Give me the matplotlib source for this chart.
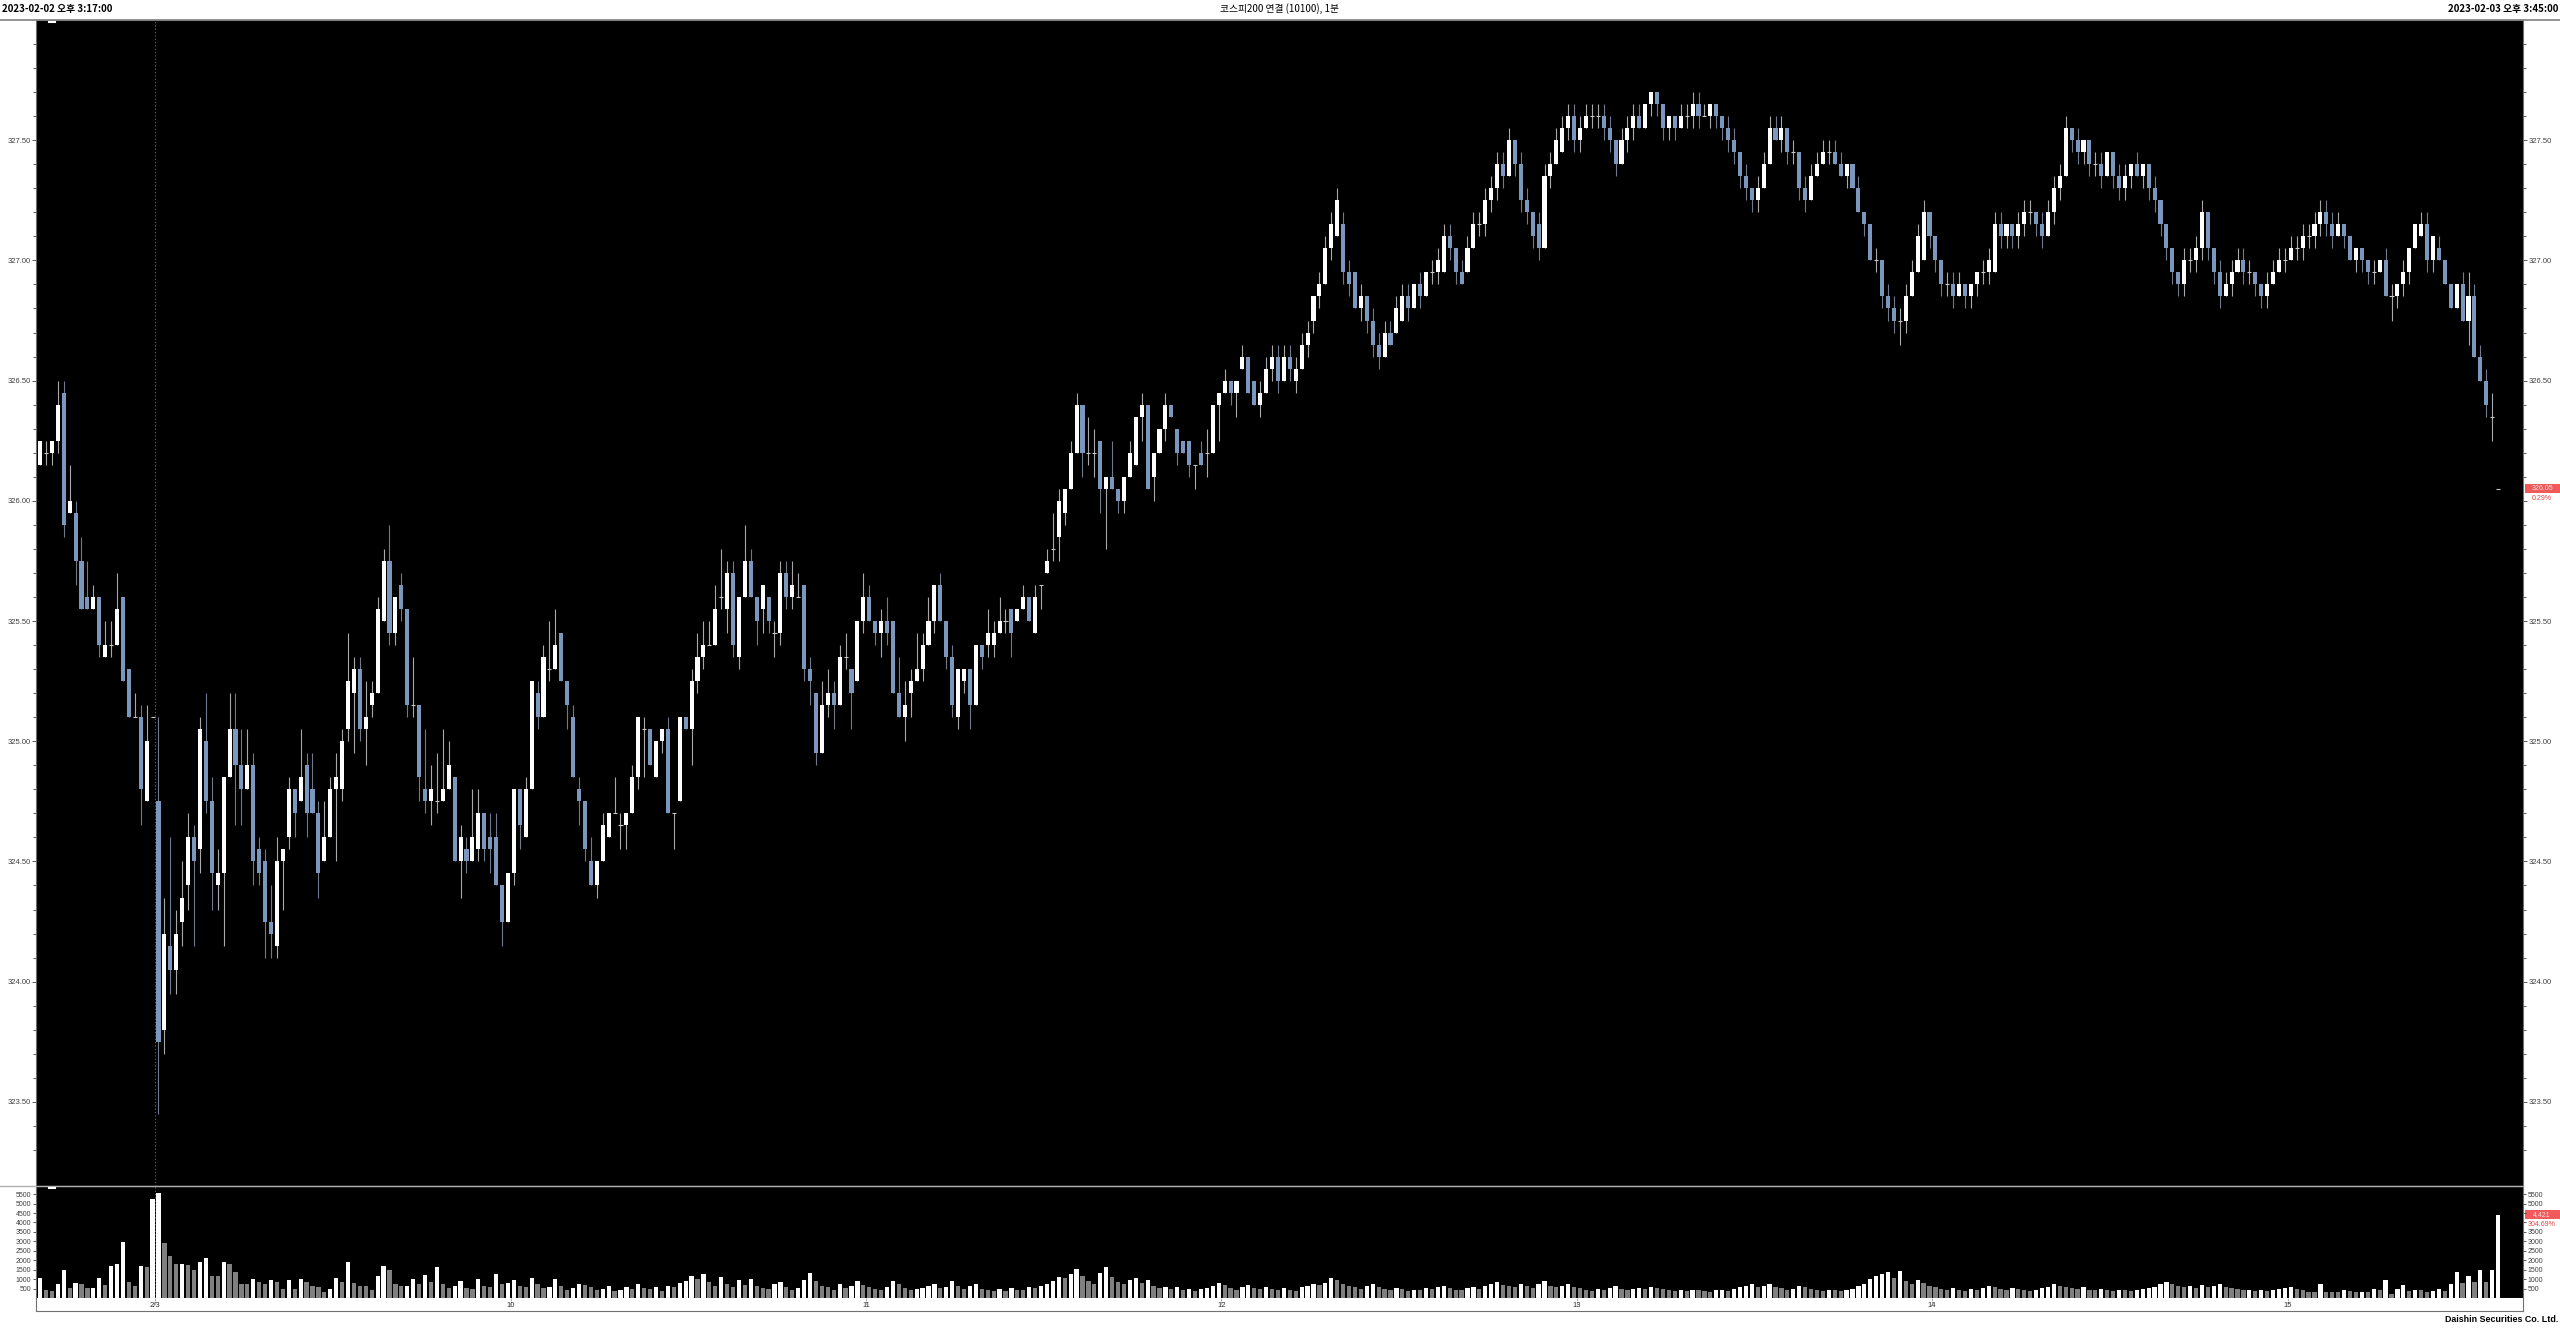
import matplotlib
matplotlib.use("Agg")
import matplotlib.pyplot as plt
import numpy as np
from matplotlib.lines import Line2D
from matplotlib.patches import Rectangle
from matplotlib.transforms import blended_transform_factory

# 1-minute bars, 2023-02-02 15:17 .. 2023-02-03 15:45 (last bar = closing auction)
opens = [
    326.15, 326.20, 326.20, 326.25, 326.45, 325.95, 325.95, 325.75, 325.60, 325.55,
    325.60, 325.35, 325.40, 325.40, 325.60, 325.30, 325.10, 325.10, 324.75, 325.10,
    324.75, 323.80, 324.15, 324.05, 324.25, 324.40, 324.60, 324.55, 325.00, 324.75,
    324.40, 324.45, 324.85, 325.05, 324.90, 324.80, 324.90, 324.55, 324.50, 324.25,
    324.15, 324.50, 324.60, 324.80, 324.75, 324.90, 324.80, 324.70, 324.50, 324.60,
    324.80, 324.80, 325.05, 325.20, 325.30, 325.05, 325.15, 325.20, 325.50, 325.75,
    325.45, 325.65, 325.55, 325.15, 325.15, 324.80, 324.75, 324.75, 324.75, 324.80,
    324.85, 324.50, 324.55, 324.50, 324.55, 324.70, 324.60, 324.60, 324.40, 324.25,
    324.45, 324.80, 324.60, 324.80, 325.20, 325.10, 325.30, 325.30, 325.45, 325.25,
    325.10, 324.80, 324.75, 324.50, 324.40, 324.50, 324.60, 324.70, 324.65, 324.65,
    324.70, 324.85, 325.05, 325.05, 324.85, 325.00, 325.05, 324.70, 324.75, 325.10,
    325.05, 325.25, 325.35, 325.40, 325.40, 325.60, 325.55, 325.70, 325.35, 325.60,
    325.75, 325.60, 325.55, 325.60, 325.45, 325.45, 325.70, 325.60, 325.60, 325.65,
    325.30, 325.20, 324.95, 325.15, 325.20, 325.15, 325.35, 325.30, 325.25, 325.50,
    325.60, 325.50, 325.45, 325.50, 325.50, 325.20, 325.10, 325.20, 325.25, 325.30,
    325.40, 325.50, 325.65, 325.50, 325.35, 325.10, 325.25, 325.30, 325.15, 325.40,
    325.40, 325.40, 325.45, 325.50, 325.55, 325.50, 325.55, 325.60, 325.45, 325.65,
    325.70, 325.80, 325.85, 325.95, 326.05, 326.20, 326.40, 326.20, 326.20, 326.25,
    326.05, 326.10, 326.05, 326.00, 326.10, 326.15, 326.35, 326.40, 326.10, 326.20,
    326.30, 326.40, 326.30, 326.25, 326.25, 326.15, 326.20, 326.20, 326.20, 326.40,
    326.45, 326.50, 326.45, 326.55, 326.60, 326.50, 326.40, 326.45, 326.55, 326.60,
    326.50, 326.60, 326.50, 326.55, 326.65, 326.75, 326.85, 326.90, 327.05, 327.10,
    327.15, 326.95, 326.95, 326.80, 326.85, 326.75, 326.65, 326.60, 326.70, 326.70,
    326.75, 326.85, 326.80, 326.90, 326.85, 326.95, 326.95, 326.95, 327.10, 327.05,
    326.95, 326.95, 327.05, 327.15, 327.15, 327.25, 327.30, 327.40, 327.35, 327.50,
    327.40, 327.25, 327.20, 327.15, 327.05, 327.35, 327.40, 327.45, 327.55, 327.60,
    327.50, 327.55, 327.60, 327.60, 327.60, 327.55, 327.50, 327.40, 327.50, 327.55,
    327.60, 327.55, 327.65, 327.70, 327.65, 327.55, 327.60, 327.55, 327.60, 327.60,
    327.65, 327.60, 327.60, 327.65, 327.60, 327.55, 327.50, 327.45, 327.35, 327.30,
    327.25, 327.30, 327.40, 327.55, 327.50, 327.55, 327.45, 327.45, 327.30, 327.25,
    327.35, 327.40, 327.45, 327.45, 327.40, 327.35, 327.40, 327.30, 327.20, 327.15,
    327.00, 327.00, 326.85, 326.80, 326.75, 326.75, 326.85, 326.95, 327.00, 327.20,
    327.10, 327.00, 326.90, 326.90, 326.85, 326.90, 326.85, 326.90, 326.95, 326.95,
    326.95, 327.15, 327.10, 327.15, 327.10, 327.15, 327.20, 327.20, 327.15, 327.10,
    327.20, 327.30, 327.35, 327.55, 327.50, 327.45, 327.50, 327.40, 327.40, 327.35,
    327.45, 327.35, 327.30, 327.35, 327.40, 327.35, 327.40, 327.30, 327.25, 327.15,
    327.05, 326.95, 326.90, 327.00, 327.00, 327.05, 327.20, 327.05, 326.95, 326.85,
    326.90, 326.95, 327.00, 326.95, 326.95, 326.90, 326.85, 326.90, 326.95, 327.00,
    327.00, 327.05, 327.05, 327.10, 327.10, 327.15, 327.20, 327.15, 327.10, 327.15,
    327.10, 327.00, 327.05, 327.00, 326.95, 326.95, 327.00, 326.85, 326.85, 326.90,
    326.95, 327.05, 327.10, 327.15, 327.00, 327.05, 327.00, 326.90, 326.80, 326.90,
    326.75, 326.85, 326.60, 326.50, 326.35, 326.05,
]
highs = [
    326.25, 326.25, 326.25, 326.50, 326.50, 326.15, 326.00, 325.85, 325.75, 325.65,
    325.60, 325.50, 325.50, 325.70, 325.60, 325.30, 325.20, 325.15, 325.15, 325.10,
    325.10, 324.35, 324.60, 324.30, 324.50, 324.70, 324.65, 325.10, 325.20, 324.85,
    324.55, 324.85, 325.20, 325.20, 325.05, 325.05, 324.95, 324.60, 324.55, 324.40,
    324.60, 324.55, 324.85, 324.80, 325.05, 324.95, 324.95, 324.75, 324.75, 324.85,
    324.95, 325.05, 325.45, 325.35, 325.35, 325.25, 325.25, 325.60, 325.80, 325.90,
    325.60, 325.70, 325.55, 325.35, 325.15, 325.05, 324.90, 324.95, 325.05, 325.00,
    324.85, 324.65, 324.60, 324.80, 324.80, 324.70, 324.70, 324.70, 324.40, 324.45,
    324.80, 324.80, 324.85, 325.25, 325.25, 325.40, 325.50, 325.55, 325.45, 325.25,
    325.15, 324.85, 324.75, 324.60, 324.50, 324.70, 324.70, 324.85, 324.70, 324.70,
    324.90, 325.10, 325.10, 325.05, 325.00, 325.05, 325.10, 324.70, 325.10, 325.10,
    325.30, 325.45, 325.50, 325.50, 325.65, 325.80, 325.75, 325.75, 325.60, 325.90,
    325.80, 325.60, 325.65, 325.60, 325.50, 325.75, 325.75, 325.75, 325.70, 325.65,
    325.35, 325.20, 325.25, 325.30, 325.25, 325.40, 325.45, 325.30, 325.50, 325.70,
    325.65, 325.50, 325.55, 325.60, 325.50, 325.35, 325.25, 325.30, 325.45, 325.45,
    325.60, 325.65, 325.70, 325.50, 325.40, 325.30, 325.30, 325.30, 325.40, 325.40,
    325.55, 325.50, 325.60, 325.55, 325.55, 325.55, 325.65, 325.60, 325.65, 325.65,
    325.80, 325.95, 326.05, 326.05, 326.25, 326.45, 326.40, 326.35, 326.30, 326.25,
    326.10, 326.25, 326.05, 326.10, 326.25, 326.35, 326.45, 326.40, 326.20, 326.30,
    326.45, 326.40, 326.30, 326.25, 326.25, 326.15, 326.25, 326.30, 326.40, 326.45,
    326.55, 326.50, 326.50, 326.65, 326.60, 326.50, 326.50, 326.60, 326.65, 326.65,
    326.65, 326.65, 326.60, 326.70, 326.75, 326.85, 326.95, 327.10, 327.20, 327.30,
    327.20, 327.00, 326.95, 326.90, 326.85, 326.80, 326.70, 326.75, 326.75, 326.85,
    326.90, 326.90, 326.90, 326.95, 326.95, 327.00, 327.05, 327.15, 327.15, 327.05,
    327.00, 327.10, 327.20, 327.20, 327.30, 327.35, 327.45, 327.45, 327.55, 327.50,
    327.45, 327.30, 327.20, 327.20, 327.40, 327.45, 327.55, 327.60, 327.65, 327.65,
    327.60, 327.65, 327.65, 327.65, 327.65, 327.60, 327.50, 327.55, 327.60, 327.65,
    327.65, 327.65, 327.70, 327.70, 327.65, 327.60, 327.60, 327.65, 327.65, 327.70,
    327.70, 327.65, 327.65, 327.65, 327.60, 327.60, 327.55, 327.45, 327.40, 327.30,
    327.35, 327.45, 327.60, 327.60, 327.60, 327.55, 327.50, 327.45, 327.35, 327.40,
    327.45, 327.50, 327.50, 327.50, 327.45, 327.40, 327.40, 327.35, 327.20, 327.15,
    327.05, 327.00, 326.90, 326.85, 326.80, 326.90, 327.00, 327.15, 327.25, 327.20,
    327.10, 327.00, 326.95, 326.95, 326.95, 326.90, 326.90, 326.95, 327.00, 327.05,
    327.20, 327.20, 327.15, 327.15, 327.20, 327.25, 327.25, 327.20, 327.20, 327.25,
    327.35, 327.40, 327.60, 327.55, 327.55, 327.50, 327.50, 327.45, 327.45, 327.45,
    327.45, 327.40, 327.40, 327.40, 327.45, 327.40, 327.40, 327.35, 327.25, 327.15,
    327.05, 326.95, 327.05, 327.05, 327.10, 327.25, 327.20, 327.05, 327.00, 326.95,
    327.00, 327.05, 327.05, 327.00, 326.95, 326.90, 326.95, 327.00, 327.05, 327.05,
    327.10, 327.10, 327.15, 327.15, 327.20, 327.25, 327.25, 327.20, 327.20, 327.15,
    327.10, 327.05, 327.05, 327.00, 327.00, 327.00, 327.05, 326.90, 326.90, 327.00,
    327.05, 327.15, 327.20, 327.20, 327.10, 327.10, 327.00, 326.90, 326.90, 326.95,
    326.95, 326.90, 326.65, 326.55, 326.45, 326.05,
]
lows = [
    326.15, 326.15, 326.15, 326.20, 325.85, 325.95, 325.65, 325.55, 325.55, 325.55,
    325.35, 325.35, 325.35, 325.40, 325.25, 325.10, 325.10, 324.65, 324.75, 325.10,
    323.45, 323.70, 323.95, 323.95, 324.15, 324.30, 324.15, 324.45, 324.70, 324.30,
    324.30, 324.15, 324.85, 324.65, 324.65, 324.80, 324.40, 324.40, 324.10, 324.10,
    324.10, 324.30, 324.55, 324.60, 324.75, 324.60, 324.70, 324.35, 324.50, 324.60,
    324.50, 324.75, 325.00, 324.95, 325.00, 324.90, 325.10, 325.20, 325.50, 325.40,
    325.40, 325.50, 325.10, 325.10, 324.75, 324.70, 324.65, 324.70, 324.75, 324.80,
    324.50, 324.35, 324.45, 324.50, 324.50, 324.50, 324.45, 324.40, 324.15, 324.25,
    324.40, 324.55, 324.60, 324.80, 325.05, 325.10, 325.25, 325.30, 325.25, 325.05,
    324.85, 324.65, 324.50, 324.40, 324.35, 324.50, 324.60, 324.70, 324.55, 324.55,
    324.70, 324.80, 324.85, 324.90, 324.85, 324.95, 324.70, 324.55, 324.75, 325.05,
    324.90, 325.20, 325.30, 325.40, 325.40, 325.55, 325.45, 325.35, 325.30, 325.60,
    325.60, 325.40, 325.45, 325.45, 325.35, 325.40, 325.55, 325.55, 325.60, 325.25,
    325.15, 324.90, 324.95, 325.10, 325.05, 325.15, 325.30, 325.05, 325.25, 325.45,
    325.50, 325.40, 325.35, 325.40, 325.20, 325.10, 325.00, 325.10, 325.25, 325.25,
    325.40, 325.45, 325.50, 325.30, 325.10, 325.05, 325.20, 325.05, 325.15, 325.30,
    325.35, 325.35, 325.45, 325.45, 325.35, 325.50, 325.55, 325.50, 325.45, 325.55,
    325.70, 325.75, 325.75, 325.90, 326.05, 326.20, 326.10, 326.15, 326.10, 325.95,
    325.80, 326.05, 325.95, 325.95, 326.10, 326.15, 326.25, 326.05, 326.00, 326.20,
    326.25, 326.35, 326.15, 326.20, 326.10, 326.05, 326.15, 326.10, 326.20, 326.25,
    326.45, 326.40, 326.35, 326.55, 326.45, 326.40, 326.35, 326.45, 326.50, 326.45,
    326.50, 326.50, 326.45, 326.55, 326.60, 326.70, 326.80, 326.90, 327.00, 327.10,
    326.90, 326.85, 326.80, 326.75, 326.70, 326.60, 326.55, 326.60, 326.65, 326.70,
    326.75, 326.75, 326.80, 326.80, 326.85, 326.90, 326.90, 326.95, 327.00, 326.90,
    326.90, 326.95, 327.05, 327.10, 327.10, 327.20, 327.25, 327.30, 327.35, 327.35,
    327.20, 327.15, 327.05, 327.00, 327.05, 327.30, 327.40, 327.45, 327.50, 327.45,
    327.45, 327.55, 327.55, 327.55, 327.50, 327.45, 327.35, 327.40, 327.45, 327.50,
    327.55, 327.55, 327.60, 327.60, 327.50, 327.50, 327.50, 327.55, 327.55, 327.55,
    327.55, 327.60, 327.55, 327.55, 327.50, 327.45, 327.40, 327.30, 327.25, 327.20,
    327.20, 327.30, 327.40, 327.50, 327.45, 327.40, 327.40, 327.25, 327.20, 327.25,
    327.35, 327.40, 327.40, 327.40, 327.35, 327.30, 327.30, 327.20, 327.10, 327.00,
    326.95, 326.80, 326.75, 326.70, 326.65, 326.70, 326.85, 326.95, 327.00, 327.05,
    326.95, 326.85, 326.85, 326.80, 326.85, 326.80, 326.80, 326.85, 326.90, 326.90,
    326.95, 327.05, 327.05, 327.05, 327.05, 327.10, 327.15, 327.10, 327.05, 327.10,
    327.15, 327.25, 327.35, 327.45, 327.40, 327.40, 327.35, 327.35, 327.30, 327.35,
    327.30, 327.25, 327.25, 327.30, 327.35, 327.30, 327.25, 327.20, 327.10, 327.00,
    326.90, 326.85, 326.85, 326.95, 326.95, 327.00, 327.00, 326.90, 326.80, 326.85,
    326.85, 326.95, 326.90, 326.90, 326.85, 326.80, 326.80, 326.90, 326.95, 326.95,
    327.00, 327.00, 327.00, 327.05, 327.05, 327.10, 327.10, 327.05, 327.10, 327.05,
    327.00, 326.95, 326.95, 326.90, 326.90, 326.95, 326.85, 326.75, 326.80, 326.85,
    326.90, 327.05, 327.10, 326.95, 326.95, 327.00, 326.90, 326.80, 326.80, 326.75,
    326.65, 326.60, 326.50, 326.35, 326.25, 326.05,
]
closes = [
    326.25, 326.20, 326.25, 326.40, 325.90, 326.00, 325.75, 325.55, 325.55, 325.60,
    325.40, 325.40, 325.40, 325.55, 325.25, 325.10, 325.10, 324.80, 325.00, 325.10,
    323.75, 324.20, 324.05, 324.20, 324.35, 324.60, 324.50, 325.05, 324.75, 324.45,
    324.45, 324.85, 325.05, 324.90, 324.80, 324.90, 324.50, 324.45, 324.25, 324.20,
    324.50, 324.55, 324.80, 324.70, 324.85, 324.70, 324.70, 324.45, 324.60, 324.80,
    324.85, 325.00, 325.25, 325.30, 325.05, 325.10, 325.20, 325.55, 325.75, 325.45,
    325.60, 325.55, 325.15, 325.15, 324.85, 324.75, 324.80, 324.75, 324.80, 324.90,
    324.50, 324.60, 324.50, 324.60, 324.70, 324.55, 324.55, 324.40, 324.25, 324.45,
    324.80, 324.65, 324.80, 325.25, 325.10, 325.35, 325.30, 325.40, 325.25, 325.15,
    324.85, 324.75, 324.55, 324.40, 324.50, 324.65, 324.70, 324.70, 324.65, 324.70,
    324.85, 325.10, 325.05, 324.90, 325.00, 325.05, 324.70, 324.70, 325.10, 325.05,
    325.25, 325.35, 325.40, 325.40, 325.55, 325.60, 325.70, 325.40, 325.60, 325.75,
    325.60, 325.50, 325.65, 325.50, 325.45, 325.70, 325.60, 325.65, 325.60, 325.30,
    325.25, 324.95, 325.15, 325.20, 325.15, 325.35, 325.35, 325.20, 325.50, 325.60,
    325.50, 325.45, 325.50, 325.45, 325.20, 325.10, 325.15, 325.25, 325.30, 325.40,
    325.50, 325.65, 325.50, 325.35, 325.15, 325.30, 325.30, 325.15, 325.40, 325.35,
    325.45, 325.45, 325.50, 325.50, 325.45, 325.55, 325.60, 325.50, 325.60, 325.65,
    325.75, 325.80, 326.00, 326.05, 326.20, 326.40, 326.20, 326.20, 326.20, 326.05,
    326.10, 326.05, 326.00, 326.10, 326.20, 326.35, 326.40, 326.05, 326.20, 326.30,
    326.40, 326.35, 326.20, 326.20, 326.15, 326.15, 326.15, 326.20, 326.40, 326.45,
    326.50, 326.45, 326.50, 326.60, 326.45, 326.40, 326.45, 326.55, 326.60, 326.50,
    326.60, 326.55, 326.55, 326.65, 326.70, 326.85, 326.90, 327.05, 327.15, 327.25,
    326.95, 326.90, 326.80, 326.85, 326.75, 326.65, 326.60, 326.70, 326.65, 326.80,
    326.85, 326.80, 326.90, 326.85, 326.95, 326.95, 327.00, 327.10, 327.05, 326.95,
    326.90, 327.05, 327.15, 327.15, 327.25, 327.30, 327.40, 327.35, 327.50, 327.40,
    327.25, 327.20, 327.10, 327.05, 327.35, 327.40, 327.50, 327.55, 327.60, 327.50,
    327.55, 327.60, 327.60, 327.60, 327.55, 327.50, 327.40, 327.50, 327.55, 327.60,
    327.55, 327.65, 327.70, 327.65, 327.55, 327.60, 327.55, 327.60, 327.60, 327.65,
    327.60, 327.60, 327.65, 327.60, 327.55, 327.50, 327.45, 327.35, 327.30, 327.25,
    327.30, 327.40, 327.55, 327.50, 327.55, 327.45, 327.45, 327.30, 327.25, 327.35,
    327.40, 327.45, 327.45, 327.40, 327.35, 327.40, 327.30, 327.20, 327.15, 327.00,
    327.00, 326.85, 326.80, 326.75, 326.75, 326.85, 326.95, 327.10, 327.20, 327.10,
    327.00, 326.90, 326.90, 326.85, 326.90, 326.85, 326.90, 326.95, 326.95, 327.00,
    327.15, 327.10, 327.15, 327.10, 327.15, 327.20, 327.20, 327.15, 327.10, 327.20,
    327.30, 327.35, 327.55, 327.50, 327.45, 327.50, 327.40, 327.40, 327.35, 327.45,
    327.35, 327.30, 327.35, 327.40, 327.35, 327.40, 327.30, 327.25, 327.15, 327.05,
    326.95, 326.90, 327.00, 327.00, 327.05, 327.20, 327.05, 326.95, 326.85, 326.90,
    326.95, 327.00, 326.95, 326.95, 326.90, 326.85, 326.90, 326.95, 327.00, 327.00,
    327.05, 327.05, 327.10, 327.10, 327.15, 327.20, 327.15, 327.10, 327.15, 327.10,
    327.00, 327.05, 327.00, 326.95, 326.95, 327.00, 326.85, 326.85, 326.90, 326.95,
    327.05, 327.15, 327.15, 327.00, 327.10, 327.00, 326.90, 326.80, 326.90, 326.75,
    326.85, 326.60, 326.50, 326.40, 326.35, 326.05,
]
volumes = [
    1050, 400, 380, 760, 1500, 520, 800, 730, 520, 550,
    1050, 700, 1680, 1780, 2960, 850, 630, 1680, 1620, 5260,
    5540, 2900, 2200, 1780, 1790, 1770, 1460, 1880, 2130, 1160,
    1150, 1880, 1820, 1380, 760, 750, 1020, 830, 720, 970,
    830, 500, 970, 470, 1020, 830, 620, 590, 310, 470,
    1080, 830, 1880, 800, 620, 610, 400, 1160, 1700, 1480,
    750, 620, 640, 980, 720, 1240, 860, 1620, 760, 520,
    640, 880, 540, 460, 980, 620, 560, 1280, 720, 820,
    960, 640, 560, 1080, 760, 520, 600, 980, 620, 440,
    520, 760, 680, 560, 400, 480, 620, 380, 420, 560,
    480, 720, 520, 460, 560, 380, 640, 560, 800, 920,
    1180, 980, 1260, 860, 640, 1120, 760, 580, 940, 680,
    1000, 620, 540, 480, 720, 860, 560, 440, 520, 960,
    1320, 880, 620, 560, 440, 720, 520, 640, 900, 700,
    560, 480, 420, 560, 920, 760, 520, 400, 460, 540,
    620, 760, 540, 600, 880, 660, 480, 620, 720, 500,
    420, 380, 460, 360, 520, 440, 400, 560, 520, 620,
    720, 880, 1100, 1040, 1260, 1520, 1180, 900, 760, 1300,
    1640, 1120, 860, 720, 960, 1080, 820, 940, 620, 520,
    600, 480, 560, 420, 500, 380, 460, 520, 640, 780,
    700, 520, 440, 580, 680, 520, 460, 560, 480, 400,
    520, 440, 380, 560, 620, 740, 680, 820, 1040, 940,
    760, 620, 560, 480, 640, 720, 560, 480, 420, 520,
    460, 380, 440, 400, 520, 460, 560, 640, 520, 440,
    400, 520, 580, 460, 640, 720, 840, 700, 620, 560,
    720, 640, 520, 760, 880, 640, 560, 620, 760, 600,
    520, 440, 380, 460, 400, 520, 620, 480, 420, 460,
    520, 480, 600, 540, 460, 400, 360, 420, 380, 440,
    400, 360, 320, 400, 440, 380, 460, 560, 640, 720,
    560, 660, 760, 580, 520, 440, 500, 640, 560, 480,
    420, 380, 440, 400, 360, 420, 480, 620, 760, 980,
    1160, 1260, 1380, 1080, 1420, 900, 760, 940, 820, 620,
    560, 480, 440, 520, 400, 380, 460, 420, 520, 640,
    560, 480, 440, 520, 460, 400, 380, 440, 520, 600,
    720, 640, 580, 520, 480, 560, 440, 400, 460, 420,
    380, 440, 400, 360, 420, 480, 520, 600, 720, 860,
    760, 640, 560, 620, 520, 700, 560, 640, 760, 600,
    520, 460, 400, 440, 380, 420, 360, 400, 460, 520,
    600, 480, 440, 336, 318, 760, 318, 317, 316, 424,
    389, 318, 336, 300, 495, 424, 954, 212, 495, 671,
    389, 424, 423, 336, 371, 495, 389, 742, 1396, 795,
    1184, 866, 1484, 850, 1480, 4421,
]

hour_labels = ["2/3", "10", "11", "12", "13", "14", "15"]
hour_pos = [19.45, 79.45, 139.45, 199.45, 259.45, 319.45, 379.45]

last_price = 326.05
last_change = "0.29%"
last_volume = 4421
volume_change = "304.69%"

W, H = 2560, 1328
UP = "#ffffff"
DOWN = "#7b97bd"
TICK_C = "#404040"


def fx(px):
    return px / W


def fy(py):
    return 1 - py / H


def main():
    plt.rcParams["font.family"] = ["Liberation Sans", "DejaVu Sans"]
    n = min(len(opens), len(highs), len(lows), len(closes), len(volumes))
    o = np.array(opens[:n], float)
    h = np.array(highs[:n], float)
    l = np.array(lows[:n], float)
    c = np.array(closes[:n], float)
    v = np.array(volumes[:n], float)
    x = np.arange(n)

    fig = plt.figure(figsize=(W / 100, H / 100), dpi=100)
    fig.patch.set_facecolor("white")

    left, right = 36, 2523
    ax = fig.add_axes([fx(left), fy(1186), fx(right - left), (1186 - 20) / H])
    axv = fig.add_axes([fx(left), fy(1298), fx(right - left), (1298 - 1186) / H], sharex=ax)
    axd = fig.add_axes([fx(left), fy(1311), fx(right - left), (1311 - 1298) / H], sharex=ax)

    for a in (ax, axv):
        a.set_facecolor("black")
        for s in a.spines.values():
            s.set_color("#707070")
            s.set_linewidth(0.8)

    # candles
    up = c > o
    wick_col = np.where(c >= o, "#a8a8a8", "#6f7b8c")
    ax.vlines(x, l, h, colors=wick_col, linewidth=0.8, zorder=2)
    body_col = np.where(up, UP, DOWN)
    ax.bar(x, np.abs(c - o), bottom=np.minimum(o, c), width=0.68,
           color=body_col, linewidth=0, zorder=3)
    doji = np.isclose(c, o)
    ax.hlines(c[doji], x[doji] - 0.34, x[doji] + 0.34, colors="#c8c8c8",
              linewidth=0.8, zorder=3)

    ax.set_xlim(-0.68, 419.2)
    ax.set_ylim(323.15, 328.0)
    ax.set_yticks(np.arange(323.5, 327.51, 0.5))
    ax.set_yticks(np.arange(323.3, 328.0, 0.1), minor=True)
    ax.yaxis.set_major_formatter(matplotlib.ticker.FormatStrFormatter("%.2f"))
    ax.tick_params(axis="y", which="both", left=True, right=True, labelleft=True,
                   labelright=True, direction="out", colors=TICK_C, labelsize=5.5,
                   pad=1)
    ax.tick_params(axis="y", which="major", length=3, width=0.6)
    ax.tick_params(axis="y", which="minor", length=2, width=0.6)
    ax.tick_params(axis="x", bottom=False, labelbottom=False)
    # the last-price tag covers this right-hand label
    for val, tk in zip(ax.get_yticks(), ax.yaxis.get_major_ticks()):
        if abs(val - 326.0) < 1e-6:
            tk.label2.set_visible(False)

    # day separator
    for a in (ax, axv):
        a.axvline(hour_pos[0], color="#6a6a6a", linestyle=(0, (1, 2)), linewidth=0.8,
                  zorder=1)

    # volume, white when larger than the previous bar
    prev = np.concatenate([[0], v[:-1]])
    vcol = np.where(v > prev, "#ffffff", "#808080")
    axv.bar(x, v, width=0.72, color=vcol, linewidth=0)
    axv.set_ylim(0, 5930)
    axv.set_yticks(np.arange(500, 5501, 500))
    axv.yaxis.set_major_formatter(matplotlib.ticker.FormatStrFormatter("%d"))
    axv.tick_params(axis="y", left=True, right=True, labelleft=True, labelright=True,
                    direction="out", colors=TICK_C, labelsize=5.0, length=2.5,
                    width=0.6, pad=1)
    axv.tick_params(axis="x", bottom=False, labelbottom=False)
    for val, tk in zip(axv.get_yticks(), axv.yaxis.get_major_ticks()):
        if val in (4000, 4500):
            tk.label2.set_visible(False)

    # date strip
    axd.set_facecolor("white")
    axd.set_ylim(0, 1)
    axd.set_yticks([])
    for s in axd.spines.values():
        s.set_color("#707070")
        s.set_linewidth(0.8)
    axd.spines["top"].set_visible(False)
    axd.tick_params(axis="x", bottom=False, labelbottom=False)
    for pos, lab in zip(hour_pos, hour_labels):
        axd.text(pos, 0.42, lab, ha="center", va="center", fontsize=5.5,
                 color="#303030")
        axd.vlines(pos, 0.55, 1.0, color="#606060", linewidth=0.6,
                   linestyle=(0, (1, 1)))

    # last price / volume tags
    tr = blended_transform_factory(fig.transFigure, ax.transData)
    ax.add_patch(Rectangle((fx(2525), last_price - 0.018), fx(35), 0.036,
                           transform=tr, facecolor="#f05a5a", edgecolor="none",
                           clip_on=False))
    ax.text(fx(2542), last_price, f"{last_price:.2f}", transform=tr, ha="center",
            va="center", fontsize=5.0, color="#ffdede")
    ax.text(fx(2542), last_price - 0.042, last_change, transform=tr, ha="center",
            va="center", fontsize=5.0, color="#e84040")

    trv = blended_transform_factory(fig.transFigure, axv.transData)
    axv.add_patch(Rectangle((fx(2525), last_volume - 220), fx(35), 440,
                            transform=trv, facecolor="#f05a5a", edgecolor="none",
                            clip_on=False))
    axv.text(fx(2542), last_volume, f"{last_volume:,}", transform=trv, ha="center",
             va="center", fontsize=5.0, color="#ffdede")
    axv.text(fx(2542), 3880, volume_change, transform=trv, ha="center", va="center",
             fontsize=5.0, color="#e84040")

    # header and panel separators
    fig.add_artist(Line2D([0, 1], [fy(20), fy(20)], color="#808080", linewidth=1.2))
    fig.add_artist(Line2D([0, fx(right)], [fy(1186), fy(1186)], color="#b0b0b0",
                          linewidth=1.0))
    fam = ["Noto Sans CJK KR", "DejaVu Sans"]
    fig.text(fx(2), fy(9), "2023-02-02 오후 3:17:00", ha="left", va="center",
             fontsize=7, fontweight="bold", family=fam)
    fig.text(0.5, fy(9), "코스피200 연결 (10100), 1분", ha="center", va="center",
             fontsize=7, family=fam)
    fig.text(fx(2558), fy(9), "2023-02-03 오후 3:45:00", ha="right", va="center",
             fontsize=7, fontweight="bold", family=fam)
    fig.text(fx(2558), fy(1320), "Daishin Securities Co. Ltd.", ha="right",
             va="center", fontsize=6.4, fontweight="bold")

    # small scroll markers
    fig.add_artist(Line2D([fx(49), fx(55)], [fy(21.5), fy(21.5)], color="white",
                          linewidth=1.5))
    fig.add_artist(Line2D([fx(49), fx(55)], [fy(1187.5), fy(1187.5)], color="white",
                          linewidth=1.5))

    fig.savefig("out.png", dpi=100, facecolor="white")


if __name__ == "__main__":
    main()
